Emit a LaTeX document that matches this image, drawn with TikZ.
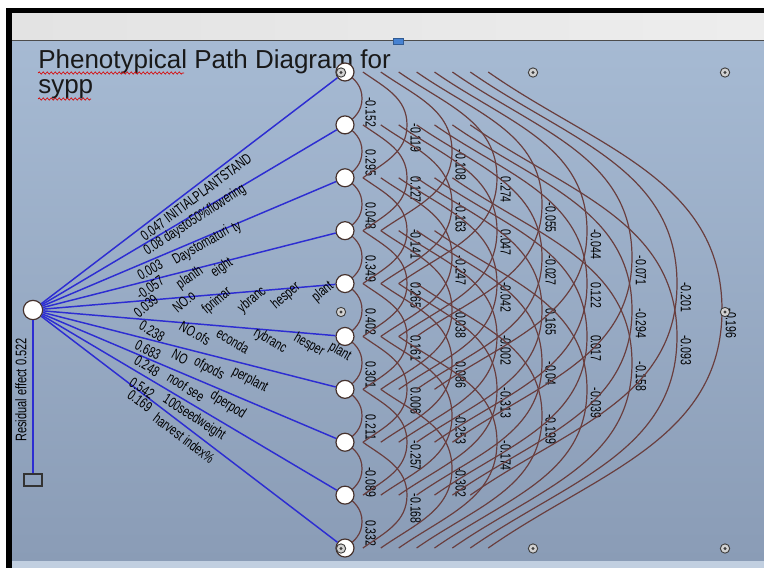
\documentclass[tikz,border=0pt]{standalone}
\usepackage{fontspec}
\setmainfont{Liberation Sans}
\newfontfamily\narrowfont[FakeStretch=0.72]{Liberation Sans}
\usetikzlibrary{calc,backgrounds,decorations.pathmorphing}

\definecolor{pathblue}{RGB}{45,45,210}
\definecolor{corrbrown}{RGB}{105,62,62}
\definecolor{nodeedge}{RGB}{70,50,45}
\definecolor{panetop}{RGB}{166,186,211}
\definecolor{panebot}{RGB}{138,156,182}
\definecolor{handleblue}{RGB}{70,130,210}

\tikzset{
  varnode/.style={circle, draw=nodeedge, fill=white, line width=0.9pt, minimum size=13.5pt, inner sep=0pt},
  rootnode/.style={varnode, minimum size=14.5pt},
  resbox/.style={rectangle, draw=black!80, line width=0.8pt, minimum width=13.5pt, minimum height=9pt, inner sep=0pt},
  effect/.style={draw=pathblue, line width=1.1pt},
  corr/.style={draw=corrbrown, line width=0.9pt},
  coef/.style={font=\narrowfont\fontsize{11}{13}\selectfont, inner sep=1pt, rotate=-90, anchor=south west},
  lbl/.style={font=\narrowfont\fontsize{11}{13}\selectfont, inner sep=0pt},
  handle/.style={circle, draw=black!75, fill=gray!35, line width=0.7pt, minimum size=7pt, inner sep=0pt,
    path picture={\fill[black!75] (path picture bounding box.center) circle (1.3pt);}},
  spell/.style={draw=red!85!black, line width=0.5pt, decorate, decoration={snake, amplitude=0.8pt, segment length=3pt}},
  heading/.style={anchor=base west, inner sep=0pt, text=black!90, font=\fontsize{19.5}{22}\selectfont}
}

\begin{document}
\begin{tikzpicture}[x=0.75pt, y=0.75pt]
\useasboundingbox (0,0) rectangle (764,-568);

% window and pane
\begin{scope}[on background layer]
  \fill[white] (0,0) rectangle (764,-568);
  \fill[black] (6,-8) rectangle (764,-13);
  \fill[black] (6,-8) rectangle (12,-568);
  \shade[left color=gray!22, right color=gray!14] (12,-13) rectangle (764,-40);
  \draw[gray!60!black, line width=0.8pt] (12,-40.5) -- (764,-40.5);
  \shade[top color=panetop, bottom color=panebot] (12,-41) rectangle (764,-561);
  \fill[panetop!70!white] (12,-561) rectangle (764,-568);
\end{scope}

\node[heading] (title) at (38,-68) {Phenotypical Path Diagram for};
\node[heading] (title2) at (38,-93) {sypp};
\draw[spell] (38,-73) -- (184,-73);
\draw[spell] (38,-99) -- (91,-99);

% variables
\node[rootnode] (root) at (33,-310) {};
\node[resbox] (resid) at (33,-480) {};
\foreach \i in {1,...,10}
  \node[varnode] (v\i) at (345,{-72-52.89*(\i-1)}) {};

\foreach \i in {1,...,10}
  \draw[effect] (root) -- (v\i);
\draw[effect] (root) -- (resid);
\node[lbl, rotate=90, font=\narrowfont\fontsize{11.5}{13}\selectfont] (restxt) at (21,-390) {Residual effect 0.522};

% direct effects
\node[lbl, rotate=37] (e1) at (196,-197) {0.047 INITIALPLANTSTAND};
\node[lbl, rotate=33] (e2) at (195,-220) {0.08 daysto50\%flowering};
\foreach \x/\y/\t [count=\n] in {150/270/0.003, 201/246/Daystomaturi, 237/228/ty}
  \node[lbl, rotate=30] (e3\n) at (\x,-\y) {\t};
\foreach \x/\y/\t [count=\n] in {150/288/-0.057, 190/278/planth, 222/268/eight}
  \node[lbl, rotate=35] (e4\n) at (\x,-\y) {\t};
\foreach \x/\y/\t [count=\n] in {146/306/0.039, 184/302/NO.o, 217/301/fprimar, 252/300/ybranc, 286/296/hesper, 323/292/plant}
  \node[lbl, rotate=40] (e5\n) at (\x,-\y) {\t};
\foreach \x/\y/\t [count=\n] in {152/331/0.238, 195/333/NO.ofs, 233/341/econda, 270/341/rybranc, 309/345/hesper, 340/352/plant}
  \node[lbl, rotate=-30] (e6\n) at (\x,-\y) {\t};
\foreach \x/\y/\t [count=\n] in {148/350/0.683, 180/357/NO, 209/369/ofpods, 250/380/perplant}
  \node[lbl, rotate=-28] (e7\n) at (\x,-\y) {\t};
\foreach \x/\y/\t [count=\n] in {147/366/0.248, 186/387/noof see, 228/405/dperpod}
  \node[lbl, rotate=-32] (e8\n) at (\x,-\y) {\t};
\foreach \x/\y/\t [count=\n] in {142/388/0.542, 194/418/100seedweight}
  \node[lbl, rotate=-33] (e9\n) at (\x,-\y) {\t};
\foreach \x/\y/\t [count=\n] in {140/401/0.169, 184/438/harvest index\%}
  \node[lbl, rotate=-37] (e10\n) at (\x,-\y) {\t};

% correlations
\begin{scope}[on background layer]
\foreach \i/\j/\r in {1/2/-0.152, 2/3/0.295, 3/4/0.048, 4/5/0.349, 5/6/0.402, 6/7/0.301, 7/8/0.211, 8/9/-0.089, 9/10/0.332,
    1/3/-0.119, 2/4/0.127, 3/5/-0.141, 4/6/0.265, 5/7/0.161, 6/8/0.006, 7/9/-0.257, 8/10/-0.168,
    1/4/-0.108, 2/5/-0.163, 3/6/-0.247, 4/7/-0.038, 5/8/0.086, 6/9/-0.253, 7/10/-0.302,
    1/5/0.274, 2/6/0.047, 3/7/-0.042, 4/8/-0.002, 5/9/-0.313, 6/10/-0.174,
    1/6/-0.055, 2/7/-0.027, 3/8/0.165, 4/9/-0.04, 5/10/-0.199,
    1/7/-0.044, 2/8/0.122, 3/9/0.017, 4/10/-0.039,
    1/8/-0.071, 2/9/-0.294, 3/10/-0.158,
    1/9/-0.201, 2/10/-0.093,
    1/10/-0.196}{
  \pgfmathsetmacro\off{17.9*(\j-\i-1)}
  \pgfmathsetmacro\ax{45*(\j-\i)-28}
  \draw[corr] ($(v\i.center)+(\off,0)$) to[out=-35,in=90]
    ($(v\i.center)!0.5!(v\j.center)+(\ax,0)$) coordinate (m\i-\j)
    to[out=-90,in=35] ($(v\j.center)+(\off,0)$);
  \node[coef] (c\i-\j) at ($(m\i-\j)+(2,3)$) {\r};
}
\end{scope}

% selection handles
\foreach \x/\y [count=\n] in {341/72.5, 533/72.5, 725/72.5, 341/312, 725/312, 341/548.5, 533/548.5, 725/548.5}
  \node[handle] (h\n) at (\x,-\y) {};
\node[rectangle, draw=handleblue!70!black, fill=handleblue, minimum width=7.5pt, minimum height=4.5pt, inner sep=0pt] (rot) at (398,-41) {};

\end{tikzpicture}
\end{document}
